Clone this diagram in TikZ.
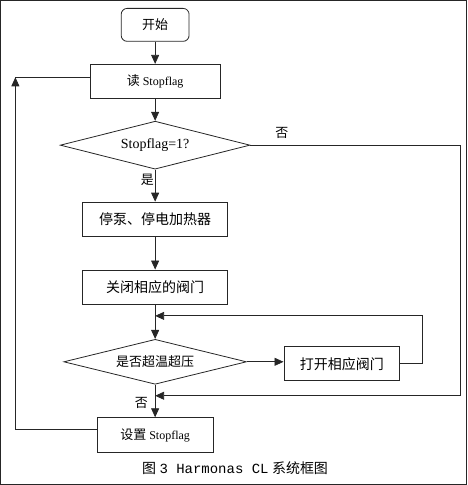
\documentclass[tikz,border=0pt]{standalone}
\usepackage{fontspec}
\setmainfont{Liberation Serif}
\newfontfamily\cjk{Noto Sans CJK SC}
\newfontfamily\capmono{Liberation Mono}
\usetikzlibrary{shapes.geometric,arrows.meta}

\begin{document}
\begin{tikzpicture}[x=1pt,y=-1pt,
    every path/.style={line width=0.8pt,draw=black!85},
    startbox/.style={draw,rounded corners=6pt,minimum width=68pt,minimum height=33pt,
        font=\fontsize{13}{15}\selectfont},
    procbox/.style={draw,minimum height=34pt,inner sep=0pt,font=\fontsize{14}{16}\selectfont},
    decision/.style={draw,diamond,aspect=4,inner sep=0pt,font=\fontsize{13}{15}\selectfont},
    arr/.style={-{Triangle[length=9pt,width=8pt]}}]
    \useasboundingbox (0,0) rectangle (467,485);
    % main column
    \node[startbox] (start) at (155,24.5) {{\cjk 开始}};
    \node[procbox,minimum width=130pt,font=\fontsize{12}{14}\selectfont] (read) at (155,81)
        {{\cjk\fontsize{13}{15}\selectfont 读} Stopflag};
    \node[decision,minimum width=190pt,minimum height=48pt,font=\fontsize{14}{16}\selectfont]
        (chk) at (155,145) {Stopflag=1?};
    \node[procbox,minimum width=145pt] (stop) at (155,219) {{\cjk 停泵、停电加热器}};
    \node[procbox,minimum width=145pt] (close) at (155,287) {{\cjk 关闭相应的阀门}};
    \node[decision,minimum width=183pt,minimum height=45pt] (over) at (155,362)
        {{\cjk 是否超温超压}};
    \node[procbox,minimum width=116pt] (open) at (342,364) {{\cjk 打开相应阀门}};
    \node[procbox,minimum width=116pt,minimum height=35pt,font=\fontsize{12}{14}\selectfont]
        (set) at (155,435.5) {{\cjk\fontsize{13}{15}\selectfont 设置} Stopflag};
    % joins
    \coordinate (m1) at (155,316);
    \coordinate (m2) at (155,396);
    \coordinate (back) at (15,77);
    % arrows down
    \draw[arr] (start) -- (read);
    \draw[arr] (read) -- (chk);
    \draw[arr] (chk) -- node[pos=0.33,left,inner sep=1pt,font=\fontsize{13}{15}\selectfont\cjk] {是} (stop);
    \draw[arr] (stop) -- (close);
    \draw[arr] (close) -- (over);
    \draw[arr] (over) -- (over -| open.west);
    \draw[arr] (over) -- node[pos=0.55,left=6pt,inner sep=1pt,font=\fontsize{13}{15}\selectfont\cjk] {否} (set);
    % loops
    \draw[arr] (open.east) -- ++(22,0) |- (m1);
    \draw[arr] (chk.east) -- node[above=3pt,pos=0.15,font=\fontsize{13}{15}\selectfont\cjk] {否}
        (461,145) |- (m2);
    \draw[arr] ([yshift=6pt]set.west) -| (back);
    \draw (back) -- (back -| read.west);
    % caption
    \node[font=\fontsize{14}{16}\selectfont] (cap) at (235,469)
        {{\cjk 图} {\capmono 3 Harmonas CL} {\cjk 系统框图}};
\end{tikzpicture}
\end{document}
